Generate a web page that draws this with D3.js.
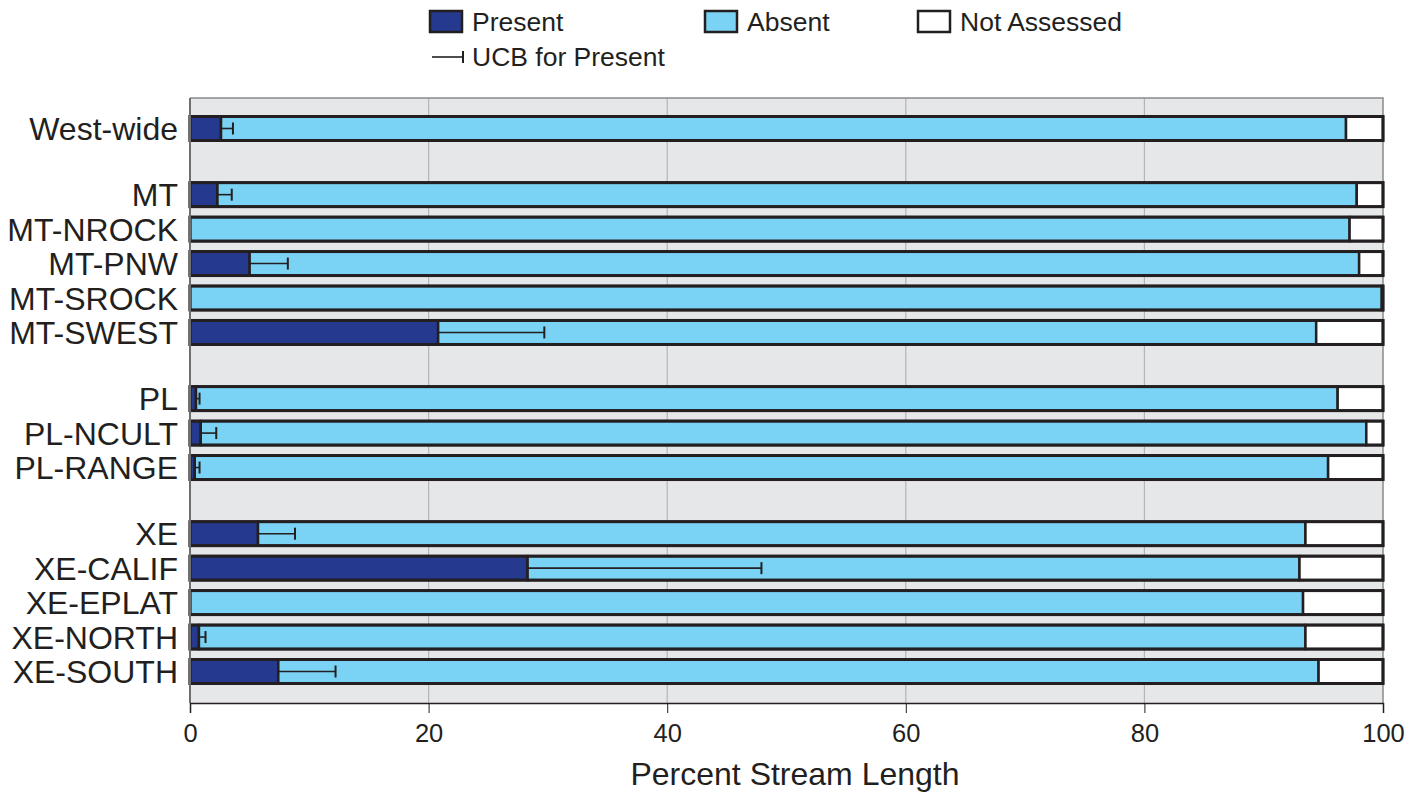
<!DOCTYPE html>
<html lang="en">
  <head>
    <meta charset="UTF-8" />
    <title>Percent Stream Length – D3.js</title>
    <script src="https://d3js.org/d3.v7.min.js"></script>
    <style>
      body {
        margin: 0;
        background: #ffffff;
        font-family: 'Liberation Sans', Arial, sans-serif;
      }
      svg {
        display: block;
      }
      .row-label {
        font-size: 32px;
        fill: #231f20;
      }
      .legend-text {
        font-size: 26.5px;
        fill: #231f20;
      }
      .axis-title {
        font-size: 32px;
        fill: #231f20;
      }
    </style>
  </head>
  <body>
    <svg width="1420" height="793"></svg>

    <script>
      // data
      const categories = [
        'West-wide',
        'MT', 'MT-NROCK', 'MT-PNW', 'MT-SROCK', 'MT-SWEST',
        'PL', 'PL-NCULT', 'PL-RANGE',
        'XE', 'XE-CALIF', 'XE-EPLAT', 'XE-NORTH', 'XE-SOUTH',
      ];
      const groups = [0, 1, 1, 1, 1, 1, 2, 2, 2, 3, 3, 3, 3, 3];
      const present = [2.6, 2.3, 0, 5.0, 0, 20.8, 0.5, 0.9, 0.4, 5.7, 28.3, 0, 0.75, 7.4];
      const absent = [94.3, 95.5, 97.2, 93.0, 99.9, 73.6, 95.7, 97.7, 95.0, 87.8, 64.7, 93.3, 92.75, 87.2];
      const ucb = [3.6, 3.5, null, 8.2, null, 29.7, 0.8, 2.2, 0.8, 8.8, 47.9, null, 1.3, 12.2];
      const xTicks = [0, 20, 40, 60, 80, 100];

      const rows = categories.map((name, i) => ({
        name,
        slot: i + groups[i] * 0.92,
        present: present[i],
        absent: absent[i],
        notAssessed: 100 - present[i] - absent[i],
        ucb: ucb[i],
      }));

      const plotL = 190, plotR = 1383, plotT = 98, plotB = 703;
      const barH = 24;

      const svg = d3.select('svg');

      const x = d3.scaleLinear().domain([0, 100]).range([plotL, plotR]);
      const y = d3
        .scaleLinear()
        .domain([0, 13 + 3 * 0.92])
        .range([128.5, 671.5]);

      // plot background
      svg
        .append('rect')
        .attr('x', plotL)
        .attr('y', plotT)
        .attr('width', plotR - plotL)
        .attr('height', plotB - plotT)
        .attr('fill', '#e6e7e9');

      // gridlines
      svg
        .selectAll('.grid')
        .data(xTicks.slice(1, -1))
        .join('line')
        .attr('x1', (d) => x(d))
        .attr('x2', (d) => x(d))
        .attr('y1', plotT)
        .attr('y2', plotB)
        .attr('stroke', '#b4b5b7')
        .attr('stroke-width', 1.2);

      // frame top/right
      svg
        .append('path')
        .attr('d', `M${plotL},${plotT}H${plotR}V${plotB}`)
        .attr('fill', 'none')
        .attr('stroke', '#8a8b8d')
        .attr('stroke-width', 1.5);

      const stack = d3.stack().keys(['present', 'absent', 'notAssessed']);
      const series = stack(rows);
      const color = d3
        .scaleOrdinal()
        .domain(['present', 'absent', 'notAssessed'])
        .range(['#253a8f', '#7ad3f5', '#ffffff']);

      const barG = svg.append('g');
      barG
        .selectAll('g')
        .data(series)
        .join('g')
        .attr('fill', (s) => color(s.key))
        .selectAll('rect')
        .data((s) => s.filter((d) => d[1] - d[0] > 0))
        .join('rect')
        .attr('x', (d) => x(d[0]))
        .attr('y', (d) => y(d.data.slot) - barH / 2)
        .attr('width', (d) => x(d[1]) - x(d[0]))
        .attr('height', barH)
        .attr('stroke', '#231f20')
        .attr('stroke-width', 2.5);

      // outer bar border
      barG
        .selectAll('.outline')
        .data(rows)
        .join('rect')
        .attr('x', x(0))
        .attr('y', (d) => y(d.slot) - barH / 2)
        .attr('width', x(100) - x(0))
        .attr('height', barH)
        .attr('fill', 'none')
        .attr('stroke', '#231f20')
        .attr('stroke-width', 3);

      // UCB error bars
      const eb = svg
        .append('g')
        .selectAll('g')
        .data(rows.filter((d) => d.ucb !== null))
        .join('g');
      eb.append('line')
        .attr('x1', (d) => x(d.present))
        .attr('x2', (d) => x(d.ucb))
        .attr('y1', (d) => y(d.slot))
        .attr('y2', (d) => y(d.slot))
        .attr('stroke', '#231f20')
        .attr('stroke-width', 1.6);
      eb.append('line')
        .attr('x1', (d) => x(d.ucb))
        .attr('x2', (d) => x(d.ucb))
        .attr('y1', (d) => y(d.slot) - 6)
        .attr('y2', (d) => y(d.slot) + 6)
        .attr('stroke', '#231f20')
        .attr('stroke-width', 2);

      // left axis line
      svg
        .append('line')
        .attr('x1', plotL)
        .attr('x2', plotL)
        .attr('y1', plotT)
        .attr('y2', plotB)
        .attr('stroke', '#6d6e70')
        .attr('stroke-width', 2);

      // row labels
      svg
        .selectAll('.row-label')
        .data(rows)
        .join('text')
        .attr('class', 'row-label')
        .attr('x', plotL - 12)
        .attr('y', (d) => y(d.slot))
        .attr('dy', '0.36em')
        .attr('text-anchor', 'end')
        .text((d) => d.name);

      // x axis
      const xAxis = svg
        .append('g')
        .attr('transform', `translate(0,${plotB})`)
        .call(d3.axisBottom(x).tickValues(xTicks).tickSize(10).tickPadding(11));
      xAxis
        .attr('font-family', "'Liberation Sans', Arial, sans-serif")
        .attr('font-size', 25.5);
      xAxis.select('.domain').attr('stroke', '#231f20').attr('stroke-width', 1.5);
      xAxis.selectAll('.tick line').attr('stroke', '#231f20').attr('stroke-width', 1);
      xAxis.selectAll('.tick text').attr('fill', '#231f20');

      svg
        .append('text')
        .attr('class', 'axis-title')
        .attr('x', 795)
        .attr('y', 785)
        .attr('text-anchor', 'middle')
        .text('Percent Stream Length');

      // legend
      const legendItems = [
        { key: 'present', label: 'Present', x: 430 },
        { key: 'absent', label: 'Absent', x: 705 },
        { key: 'notAssessed', label: 'Not Assessed', x: 918 },
      ];
      const lg = svg
        .append('g')
        .selectAll('g')
        .data(legendItems)
        .join('g')
        .attr('transform', (d) => `translate(${d.x},11)`);
      lg.append('rect')
        .attr('width', 32)
        .attr('height', 21)
        .attr('fill', (d) => color(d.key))
        .attr('stroke', '#231f20')
        .attr('stroke-width', 2.5);
      lg.append('text')
        .attr('class', 'legend-text')
        .attr('x', 42)
        .attr('y', 20)
        .text((d) => d.label);

      const ucbLeg = svg.append('g').attr('transform', 'translate(430,57)');
      ucbLeg
        .append('line')
        .attr('x1', 2)
        .attr('x2', 33)
        .attr('stroke', '#231f20')
        .attr('stroke-width', 1.6);
      ucbLeg
        .append('line')
        .attr('x1', 33)
        .attr('x2', 33)
        .attr('y1', -6)
        .attr('y2', 6)
        .attr('stroke', '#231f20')
        .attr('stroke-width', 2);
      ucbLeg
        .append('text')
        .attr('class', 'legend-text')
        .attr('x', 42)
        .attr('y', 9)
        .text('UCB for Present');
    </script>
  </body>
</html>
